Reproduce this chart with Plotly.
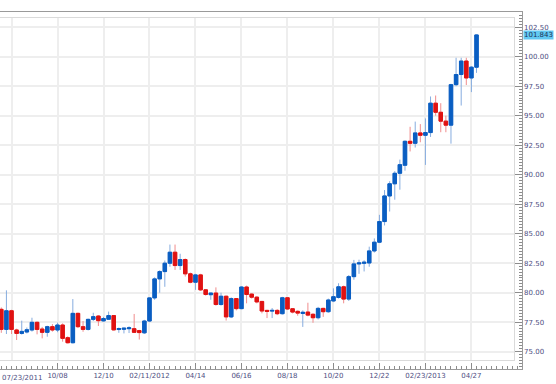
import plotly.graph_objects as go
import pandas as pd

# ---------------- data (weekly candles) ----------------
dates = pd.date_range("2011-07-23", periods=94, freq="7D")

opens = [78.59, 76.89, 78.47, 76.84, 76.55, 76.67, 76.84, 77.49, 76.92, 76.64,
         77.12, 76.84, 77.26, 76.19, 75.76, 78.25, 77.12, 76.89, 77.74, 78.02,
         77.61, 77.75, 78.06, 76.88, 76.90, 76.95, 76.95, 76.79, 76.60, 77.60,
         79.56, 81.17, 81.79, 82.50, 83.43, 82.30, 82.81, 81.60, 80.89, 81.51,
         80.24, 79.83, 79.97, 79.00, 79.70, 77.95, 79.50, 78.65, 80.48, 79.88,
         79.62, 79.26, 78.50, 78.44, 78.50, 78.22, 79.57, 78.64, 78.42, 78.24,
         78.36, 78.17, 77.88, 78.67, 78.39, 79.30, 79.60, 80.50, 79.46, 81.36,
         82.44, 82.49, 82.52, 83.54, 84.28, 86.03, 88.20, 89.23, 90.12, 90.80,
         92.83, 92.66, 93.54, 93.34, 93.57, 96.06, 95.29, 94.54, 94.20, 97.63,
         98.49, 99.63, 98.20, 99.11]
highs = [78.75, 80.20, 78.55, 76.95, 77.63, 77.05, 77.88, 77.55, 77.10, 77.20,
         77.34, 77.46, 77.40, 76.30, 79.46, 78.30, 77.60, 77.80, 78.30, 78.10,
         77.95, 78.40, 78.10, 77.05, 77.00, 77.15, 78.20, 76.85, 77.70, 79.60,
         81.30, 81.90, 82.73, 84.08, 84.08, 83.30, 82.90, 81.70, 81.60, 81.60,
         80.30, 80.00, 80.45, 80.00, 79.75, 79.60, 79.55, 80.55, 80.60, 79.95,
         79.70, 79.30, 78.55, 78.70, 78.60, 79.65, 79.62, 78.70, 78.50, 78.50,
         79.15, 78.25, 78.80, 78.72, 79.50, 80.37, 80.80, 80.60, 81.50, 82.78,
         82.80, 82.75, 83.90, 84.60, 86.60, 88.70, 89.45, 90.30, 91.28, 92.90,
         94.06, 94.50, 94.29, 94.77, 96.63, 96.71, 96.06, 95.00, 97.70, 99.91,
         99.91, 99.91, 99.20, 101.90]
lows = [76.60, 76.50, 76.50, 75.99, 76.45, 76.55, 76.70, 76.47, 76.13, 76.27,
        76.70, 76.65, 75.85, 75.70, 75.70, 77.00, 76.69, 76.80, 77.60, 77.18,
        77.55, 77.70, 76.80, 76.60, 76.55, 76.58, 76.60, 76.03, 76.50, 77.50,
        79.40, 80.00, 80.50, 82.20, 81.93, 81.93, 81.37, 80.80, 80.24, 80.15,
        79.75, 79.40, 78.90, 78.90, 77.64, 77.85, 78.50, 78.60, 79.10, 79.50,
        79.10, 78.25, 77.85, 77.85, 78.10, 78.15, 78.55, 78.25, 78.05, 77.10,
        78.00, 77.45, 77.73, 77.95, 78.30, 79.20, 79.50, 79.10, 79.30, 81.10,
        81.60, 81.80, 82.20, 83.40, 84.20, 85.70, 86.88, 87.88, 88.73, 90.34,
        91.97, 92.30, 92.75, 90.83, 93.20, 95.00, 93.60, 93.60, 92.63, 97.50,
        95.86, 97.60, 97.00, 98.63]
closes = [76.89, 78.47, 76.89, 76.55, 76.72, 76.86, 77.49, 76.89, 76.64, 77.12,
          76.84, 77.26, 76.13, 75.76, 78.25, 77.12, 76.89, 77.74, 77.97, 77.63,
          77.81, 78.06, 76.85, 76.96, 76.99, 77.02, 76.64, 76.62, 77.60, 79.56,
          81.17, 81.79, 82.50, 83.43, 82.30, 82.81, 81.60, 80.89, 81.51, 80.24,
          79.85, 79.97, 79.00, 79.70, 77.95, 79.50, 78.65, 80.48, 79.85, 79.62,
          79.22, 78.45, 78.42, 78.50, 78.22, 79.57, 78.62, 78.36, 78.27, 78.34,
          78.10, 77.88, 78.67, 78.39, 79.38, 79.66, 80.50, 79.46, 81.36, 82.44,
          82.52, 82.58, 83.54, 84.28, 86.03, 88.20, 89.23, 90.12, 90.85, 92.83,
          92.66, 93.54, 93.34, 93.57, 96.06, 95.29, 94.54, 94.20, 97.63, 98.49,
          99.63, 98.20, 99.11, 101.843]

first_label = "07/23/2011"
tick_dates = ["2011-10-08", "2011-12-10", "2012-02-11", "2012-04-14", "2012-06-16",
              "2012-08-18", "2012-10-20", "2012-12-22", "2013-02-23", "2013-04-27"]
tick_labels = ["10/08", "12/10", "02/11/2012", "04/14", "06/16",
               "08/18", "10/20", "12/22", "02/23/2013", "04/27"]
grid_dates = ["2011-08-06"] + tick_dates
last_label = "101.843"

# ---------------- geometry ----------------
W, H = 556, 384
px_week = 5.11
ppd = px_week / 7.0
x0 = dates[0] - pd.Timedelta(days=1.3 / ppd)
inner_w, outer_w = 514.0, 521.7
x_in_end = x0 + pd.Timedelta(days=inner_w / ppd)
x_out_end = x0 + pd.Timedelta(days=outer_w / ppd)

ppu, y80 = 11.8, 292.7
def val(py):
    return 80 - (py - y80) / ppu

in_top, in_bot = 18.3, 360.0
out_top, out_bot = 11.7, 369.0

BLUE, BLUE_W = "#0a5ec2", "#86acdf"
RED, RED_W = "#e01212", "#f08c8c"
TXT = "#4e4e82"
FONT = dict(family="DejaVu Sans", size=7, color=TXT)

body_hi = [max(o, c) for o, c in zip(opens, closes)]
body_lo = [min(o, c) for o, c in zip(opens, closes)]

fig = go.Figure()
fig.add_trace(go.Candlestick(
    x=dates, open=opens, high=highs, low=lows, close=closes,
    increasing=dict(line=dict(color=BLUE_W, width=1), fillcolor=BLUE),
    decreasing=dict(line=dict(color=RED_W, width=1), fillcolor=RED),
    whiskerwidth=0, hoverinfo="skip", xaxis="x", yaxis="y"))
fig.add_trace(go.Candlestick(
    x=dates, open=opens, high=body_hi, low=body_lo, close=closes,
    increasing=dict(line=dict(color=BLUE, width=1), fillcolor=BLUE),
    decreasing=dict(line=dict(color=RED, width=1), fillcolor=RED),
    whiskerwidth=0, hoverinfo="skip", xaxis="x", yaxis="y"))
# invisible anchor trace for the outer (labelled) axes
fig.add_trace(go.Scatter(x=[dates[0]], y=[closes[0]], mode="markers",
                         marker=dict(opacity=0), hoverinfo="skip",
                         xaxis="x2", yaxis="y2"))

fig.update_layout(
    width=W, height=H,
    margin=dict(l=0, r=0, t=0, b=0),
    paper_bgcolor="white", plot_bgcolor="rgba(0,0,0,0)",
    showlegend=False,
    boxgap=0.15, boxgroupgap=0.2, boxmode="overlay",
    xaxis=dict(type="date", domain=[0, inner_w / W], range=[x0, x_in_end],
               anchor="y", rangeslider=dict(visible=False),
               tickvals=grid_dates, showticklabels=False, ticks="",
               showgrid=True, gridcolor="#eeeeee", gridwidth=1.5,
               showline=True, linecolor="#dadada", linewidth=1, mirror=True,
               automargin=False, fixedrange=True),
    yaxis=dict(domain=[1 - in_bot / H, 1 - in_top / H], range=[val(in_bot), val(in_top)],
               anchor="x", tick0=75, dtick=2.5, showticklabels=False, ticks="",
               showgrid=True, gridcolor="#eeeeee", gridwidth=1.5, zeroline=False,
               showline=True, linecolor="#dadada", linewidth=1, mirror=True,
               automargin=False, fixedrange=True),
    xaxis2=dict(type="date", domain=[0, outer_w / W], range=[x0, x_out_end],
                anchor="y2", side="bottom", showgrid=False,
                tickvals=tick_dates, ticktext=tick_labels, tickfont=FONT,
                ticks="inside", ticklen=6, tickcolor="#8c8c8c",
                minor=dict(ticks="inside", ticklen=3, dtick=7 * 86400000,
                           tick0="2011-07-23", tickcolor="#8c8c8c", showgrid=False),
                showline=True, linecolor="#9a9a9a", linewidth=1, mirror=True,
                automargin=False, fixedrange=True),
    yaxis2=dict(domain=[1 - out_bot / H, 1 - out_top / H], range=[val(out_bot), val(out_top)],
                anchor="x2", side="right", showgrid=False, zeroline=False,
                tick0=75, dtick=2.5, tickformat=".2f", tickfont=FONT,
                ticks="inside", ticklen=7, tickcolor="#8c8c8c",
                minor=dict(ticks="inside", ticklen=3, dtick=0.25, tick0=75,
                           tickcolor="#8c8c8c", showgrid=False),
                showline=True, linecolor="#9a9a9a", linewidth=1,
                automargin=False, fixedrange=True),
    annotations=[
        dict(text=first_label, xref="paper", yref="paper", x=0, xanchor="left",
             y=1 - 377.5 / H, yanchor="middle", showarrow=False, font=FONT),
        dict(text=last_label, xref="paper", yref="y2", x=(outer_w + 1) / W,
             xanchor="left", y=closes[-1], yanchor="middle", showarrow=False,
             bgcolor="#62c8f2", borderpad=0,
             font=dict(family="DejaVu Sans", size=7, color="#1c3358")),
    ],
)

fig.write_html("out.html", config={"displayModeBar": False},
               post_script="document.body.style.margin='0px';")
